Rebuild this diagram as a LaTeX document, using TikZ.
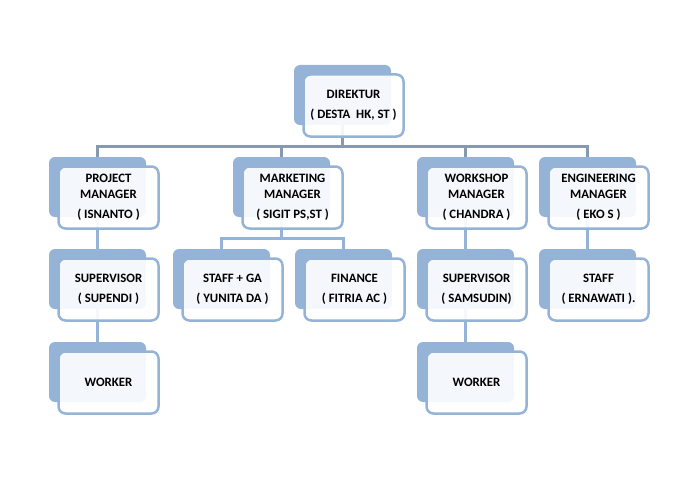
\documentclass[tikz,border=0pt]{standalone}
\usepackage{fontspec}
\setmainfont{Carlito}
\usetikzlibrary{calc}
\definecolor{boxblue}{HTML}{95B3D7}
\definecolor{topline}{HTML}{8599B0}
\definecolor{subline}{HTML}{95B3D7}
\tikzset{
  backbox/.style={fill=boxblue, draw=none, rounded corners=6pt, minimum width=97pt, minimum height=60pt, anchor=north west, outer sep=0pt, inner sep=0pt},
  frontbox/.style={fill=white, fill opacity=0.9, text opacity=1, draw=boxblue, draw opacity=1, line width=2.5pt, rounded corners=7pt, minimum width=100pt, minimum height=62pt, outer sep=0pt, inner sep=0pt, align=center, font=\fontsize{12.8}{16}\selectfont\bfseries},
  topconn/.style={draw=topline, line width=3pt},
  subconn/.style={draw=subline, line width=3pt}
}
\newcommand{\OrgBox}[4]{%
  \node[backbox] (#1) at (#2,#3) {};
}
\newcommand{\OrgFront}[4]{%
  \node[frontbox] (#1f) at ({#2+59.5},{#3+40.5}) {#4};
}
\begin{document}
\begin{tikzpicture}[x=1pt,y=-1pt]
\useasboundingbox (0,0) rectangle (692,476);
% back boxes
\OrgBox{dir}{294}{65}{}
\OrgBox{pm}{49}{157}{}
\OrgBox{mm}{233}{157}{}
\OrgBox{wm}{417}{157}{}
\OrgBox{em}{539}{157}{}
\OrgBox{supa}{49}{249}{}
\OrgBox{sga}{173}{249}{}
\OrgBox{fin}{295}{249}{}
\OrgBox{supb}{417}{249}{}
\OrgBox{stf}{539}{249}{}
\OrgBox{wka}{49}{342}{}
\OrgBox{wkb}{417}{342}{}
% connectors
\coordinate (bar) at (0,146);
\coordinate (mbar) at (0,238);
\draw[topconn] (dir.south) -- (dir.south |- bar);
\draw[topconn] (pm.north) -- (pm.north |- bar) -- (em.north |- bar) -- (em.north);
\draw[topconn] (mm.north) -- (mm.north |- bar);
\draw[topconn] (wm.north) -- (wm.north |- bar);
\draw[subconn] (pm.south) -- (supa.north);
\draw[subconn] (supa.south) -- (wka.north);
\draw[subconn] (wm.south) -- (supb.north);
\draw[subconn] (supb.south) -- (wkb.north);
\draw[subconn] (em.south) -- (stf.north);
\draw[subconn] (mm.south) -- (mm.south |- mbar);
\draw[subconn] (sga.north) -- (sga.north |- mbar) -- (fin.north |- mbar) -- (fin.north);
% front boxes
\OrgFront{dir}{294}{65}{DIREKTUR\\[4pt]( DESTA~ HK, ST )}
\OrgFront{pm}{49}{157}{PROJECT\\MANAGER\\[4pt]( ISNANTO )}
\OrgFront{mm}{233}{157}{MARKETING\\MANAGER\\[4pt]( SIGIT PS,ST )}
\OrgFront{wm}{417}{157}{WORKSHOP\\MANAGER\\[4pt]( CHANDRA )}
\OrgFront{em}{539}{157}{ENGINEERING\\MANAGER\\[4pt]( EKO S )}
\OrgFront{supa}{49}{249}{SUPERVISOR\\[4pt]( SUPENDI )}
\OrgFront{sga}{173}{249}{STAFF + GA\\[4pt]( YUNITA DA )}
\OrgFront{fin}{295}{249}{FINANCE\\[4pt]( FITRIA AC )}
\OrgFront{supb}{417}{249}{SUPERVISOR\\[4pt]( SAMSUDIN)}
\OrgFront{stf}{539}{249}{STAFF\\[4pt]( ERNAWATI ).}
\OrgFront{wka}{49}{342}{WORKER}
\OrgFront{wkb}{417}{342}{WORKER}
\end{tikzpicture}
\end{document}
